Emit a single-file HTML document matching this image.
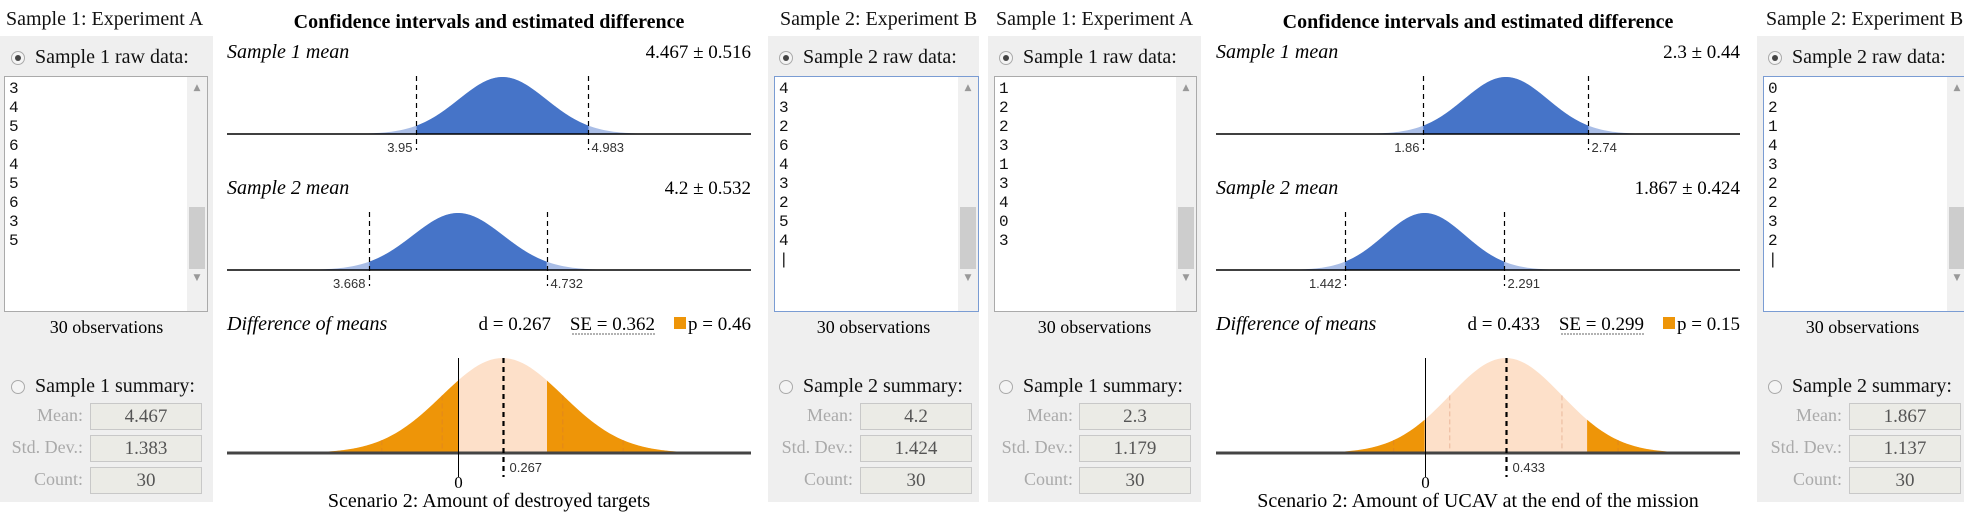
<!DOCTYPE html>
<html><head><meta charset="utf-8">
<style>
body{margin:0;width:1964px;height:513px;overflow:hidden;background:#fff;font-family:"Liberation Serif",serif;position:relative}
.a{position:absolute}
.gray{background:#efefef}
.ttl{font-size:20px;white-space:nowrap;color:#111}
.radio{width:12px;height:12px;border:1px solid #aaa;border-radius:50%;background:#f4f4f4}
.radio.on::after{content:"";position:absolute;left:3px;top:3px;width:6px;height:6px;border-radius:50%;background:#444}
.ta{background:#fff;border:1px solid #aaa;box-sizing:border-box;overflow:hidden}
.ta.focus{border-color:#7a9cd3}
.lines{position:absolute;left:4px;top:3px;font-family:"Liberation Mono",monospace;font-size:16px;line-height:19px;color:#111;white-space:pre}
.sb{position:absolute;right:0;top:0;width:20px;height:100%;background:#f0f0f0}
.thumb{position:absolute;left:2px;width:16px;background:#cdcdcd}
.arr{position:absolute;left:0;width:20px;text-align:center;font-size:9px;color:#999;font-family:"DejaVu Sans",sans-serif}
.obs{font-size:18px;text-align:center;white-space:nowrap}
.lab{font-size:18px;color:#aaa;text-align:right;width:82px;white-space:nowrap}
.box{background:#ebebe6;border:1px solid #c8c8c8;box-sizing:border-box;height:27px;width:112px;text-align:center;font-size:19px;line-height:25px;color:#555}
</style></head><body>

<!-- ============ HALF 1 ============ -->
<div class="a ttl" style="left:6px;top:8px">Sample 1: Experiment A</div>
<div class="a gray" style="left:0;top:36px;width:213px;height:466px"></div>
<div class="a radio on" style="left:11px;top:51px"></div>
<div class="a ttl" style="left:35px;top:46px">Sample 1 raw data:</div>
<div class="a ta" style="left:4px;top:76px;width:204px;height:236px">
<div class="lines">3
4
5
6
4
5
6
3
5</div>
<div class="sb"><div class="arr" style="top:6px">▲</div><div class="thumb" style="top:130px;height:62px"></div><div class="arr" style="top:196px">▼</div></div>
</div>
<div class="a obs" style="left:0;width:213px;top:317px">30 observations</div>
<div class="a radio" style="left:11px;top:380px"></div>
<div class="a ttl" style="left:35px;top:375px">Sample 1 summary:</div>
<div class="a lab" style="left:1px;top:405px">Mean:</div>
<div class="a box" style="left:90px;top:403px">4.467</div>
<div class="a lab" style="left:1px;top:437px">Std. Dev.:</div>
<div class="a box" style="left:90px;top:435px">1.383</div>
<div class="a lab" style="left:1px;top:469px">Count:</div>
<div class="a box" style="left:90px;top:467px">30</div>

<div class="a ttl" style="left:780px;top:8px">Sample 2: Experiment B</div>
<div class="a gray" style="left:768px;top:36px;width:211px;height:466px"></div>
<div class="a radio on" style="left:779px;top:51px"></div>
<div class="a ttl" style="left:803px;top:46px">Sample 2 raw data:</div>
<div class="a ta focus" style="left:774px;top:76px;width:205px;height:236px">
<div class="lines">4
3
2
6
4
3
2
5
4
|</div>
<div class="sb"><div class="arr" style="top:6px">▲</div><div class="thumb" style="top:130px;height:62px"></div><div class="arr" style="top:196px">▼</div></div>
</div>
<div class="a obs" style="left:768px;width:211px;top:317px">30 observations</div>
<div class="a radio" style="left:779px;top:380px"></div>
<div class="a ttl" style="left:803px;top:375px">Sample 2 summary:</div>
<div class="a lab" style="left:771px;top:405px">Mean:</div>
<div class="a box" style="left:860px;top:403px">4.2</div>
<div class="a lab" style="left:771px;top:437px">Std. Dev.:</div>
<div class="a box" style="left:860px;top:435px">1.424</div>
<div class="a lab" style="left:771px;top:469px">Count:</div>
<div class="a box" style="left:860px;top:467px">30</div>

<!-- ============ HALF 2 ============ -->
<div class="a ttl" style="left:996px;top:8px">Sample 1: Experiment A</div>
<div class="a gray" style="left:988px;top:36px;width:213px;height:466px"></div>
<div class="a radio on" style="left:999px;top:51px"></div>
<div class="a ttl" style="left:1023px;top:46px">Sample 1 raw data:</div>
<div class="a ta" style="left:994px;top:76px;width:203px;height:236px">
<div class="lines">1
2
2
3
1
3
4
0
3</div>
<div class="sb"><div class="arr" style="top:6px">▲</div><div class="thumb" style="top:130px;height:62px"></div><div class="arr" style="top:196px">▼</div></div>
</div>
<div class="a obs" style="left:988px;width:213px;top:317px">30 observations</div>
<div class="a radio" style="left:999px;top:380px"></div>
<div class="a ttl" style="left:1023px;top:375px">Sample 1 summary:</div>
<div class="a lab" style="left:991px;top:405px">Mean:</div>
<div class="a box" style="left:1079px;top:403px">2.3</div>
<div class="a lab" style="left:991px;top:437px">Std. Dev.:</div>
<div class="a box" style="left:1079px;top:435px">1.179</div>
<div class="a lab" style="left:991px;top:469px">Count:</div>
<div class="a box" style="left:1079px;top:467px">30</div>

<div class="a ttl" style="left:1766px;top:8px">Sample 2: Experiment B</div>
<div class="a gray" style="left:1757px;top:36px;width:210px;height:466px"></div>
<div class="a radio on" style="left:1768px;top:51px"></div>
<div class="a ttl" style="left:1792px;top:46px">Sample 2 raw data:</div>
<div class="a ta focus" style="left:1763px;top:76px;width:205px;height:236px">
<div class="lines">0
2
1
4
3
2
2
3
2
|</div>
<div class="sb"><div class="arr" style="top:6px">▲</div><div class="thumb" style="top:130px;height:62px"></div><div class="arr" style="top:196px">▼</div></div>
</div>
<div class="a obs" style="left:1757px;width:211px;top:317px">30 observations</div>
<div class="a radio" style="left:1768px;top:380px"></div>
<div class="a ttl" style="left:1792px;top:375px">Sample 2 summary:</div>
<div class="a lab" style="left:1760px;top:405px">Mean:</div>
<div class="a box" style="left:1849px;top:403px">1.867</div>
<div class="a lab" style="left:1760px;top:437px">Std. Dev.:</div>
<div class="a box" style="left:1849px;top:435px">1.137</div>
<div class="a lab" style="left:1760px;top:469px">Count:</div>
<div class="a box" style="left:1849px;top:467px">30</div>

<svg id="charts" class="a" style="left:0;top:0" width="1964" height="513" xmlns="http://www.w3.org/2000/svg"></svg>

<script>
// ---- data ----
const chartTitles = ["Scenario 2: Amount of destroyed targets", "Scenario 2: Amount of UCAV at the end of the mission"];
const sample1Means = [4.467, 2.3];
const sample1CI = [0.516, 0.44];
const sample1Lo = ["3.95", "1.86"];
const sample1Hi = ["4.983", "2.74"];
const sample2Means = [4.2, 1.867];
const sample2CI = [0.532, 0.424];
const sample2Lo = ["3.668", "1.442"];
const sample2Hi = ["4.732", "2.291"];
const diffD = [0.267, 0.433];
const diffSE = [0.362, 0.299];
const pValues = [0.46, 0.15];
// ---- layout (not data) ----
const chartLeft = [227, 1216];
const chartWidth = 524;
const domainMin = [2.814, 0.755];
const domainMax = [5.958, 3.548];

const NS = "http://www.w3.org/2000/svg";
const svg = document.getElementById("charts");
function mk(tag, attrs, parent) {
  const e = document.createElementNS(NS, tag);
  for (const k in attrs) e.setAttribute(k, attrs[k]);
  (parent || svg).appendChild(e);
  return e;
}
function txt(s, attrs, parent) { const t = mk("text", attrs, parent); t.textContent = s; return t; }

function curvePath(xs, mu, sig, a, b, axisY, H) {
  let d = "M" + xs(a).toFixed(2) + "," + axisY;
  const n = 120;
  for (let i = 0; i <= n; i++) {
    const v = a + (b - a) * i / n;
    const z = (v - mu) / sig;
    d += " L" + xs(v).toFixed(2) + "," + (axisY - H * Math.exp(-z * z / 2)).toFixed(2);
  }
  return d + " L" + xs(b).toFixed(2) + "," + axisY + " Z";
}
const SERIF = "Liberation Serif, serif";

for (let c = 0; c < 2; c++) {
  const L = chartLeft[c], R = L + chartWidth, C = L + chartWidth / 2;
  const k = chartWidth / (domainMax[c] - domainMin[c]);
  const xs = v => L + (v - domainMin[c]) * k;
  const g = mk("g", {});
  
  

  const t = txt("Confidence intervals and estimated difference", {x: C, y: 28, "text-anchor": "middle", "font-size": 20, "font-weight": "bold", "font-family": SERIF}, g);
  
  

  const plots = [
    {name: "Sample 1 mean", mu: sample1Means[c], ci: sample1CI[c], lo: sample1Lo[c], hi: sample1Hi[c], labY: 58, axisY: 134, id: "sample1"},
    {name: "Sample 2 mean", mu: sample2Means[c], ci: sample2CI[c], lo: sample2Lo[c], hi: sample2Hi[c], labY: 194, axisY: 270, id: "sample2"}
  ];
  plots.forEach(p => {
    const l = txt(p.name, {x: L, y: p.labY, "font-size": 20, "font-style": "italic", "font-family": SERIF}, g);
    
    
    const v = txt(p.mu + " ± " + p.ci, {x: R, y: p.labY, "font-size": 19, "text-anchor": "end", "font-family": SERIF}, g);
    
    
    const sig = p.ci / 1.96, H = 57;
    const tail = mk("path", {d: curvePath(xs, p.mu, sig, p.mu - 4 * sig, p.mu + 4 * sig, p.axisY, H), fill: "#a9bde6"}, g);
    
    
    const core = mk("path", {d: curvePath(xs, p.mu, sig, p.mu - p.ci, p.mu + p.ci, p.axisY, H), fill: "#4674c8"}, g);
    
    
    const ax = mk("line", {x1: L, x2: R, y1: p.axisY, y2: p.axisY, stroke: "#000", "stroke-width": 1.5}, g);
    
    
    [[p.mu - p.ci, p.lo, "end", -4], [p.mu + p.ci, p.hi, "start", 3]].forEach((q, i) => {
      const x = Math.round(xs(q[0])) + 0.5;
      const dl = mk("line", {x1: x, x2: x, y1: p.axisY - 58, y2: p.axisY + 16, stroke: "#000", "stroke-width": 1.2, "stroke-dasharray": "5,4"}, g);
      
      
      const tl = txt(q[1], {x: x + q[3], y: p.axisY + 18, "font-size": 13, "text-anchor": q[2], fill: "#333", "font-family": "Liberation Sans, sans-serif"}, g);
      
      
    });
  });

  // difference plot: 0 maps to sample2 mean position, d to sample1 mean
  const base = sample2Means[c];
  const xd = v => xs(base + v);
  const d = diffD[c], se = diffSE[c], dAx = 453, H = 95;
  const dl = txt("Difference of means", {x: L, y: 330, "font-size": 20, "font-style": "italic", "font-family": SERIF}, g);
  
  
  const dt = txt("d = " + d, {x: L + 324, y: 330, "font-size": 19, "text-anchor": "end", "font-family": SERIF}, g);
  
  
  const st = txt("SE = " + se, {x: L + 428, y: 330, "font-size": 19, "text-anchor": "end", "font-family": SERIF}, g);
  
  
  const su = mk("line", {x1: L + 345, x2: L + 428, y1: 334, y2: 334, stroke: "#666", "stroke-dasharray": "2,1"}, g);
  
  
  const sq = mk("rect", {x: L + 447, y: 317, width: 12, height: 12, fill: "#ee9508"}, g);
  
  
  const pt = txt("p = " + pValues[c], {x: R, y: 330, "font-size": 19, "text-anchor": "end", "font-family": SERIF}, g);
  
  

  const full = mk("path", {d: curvePath(xd, d, se, d - 4 * se, d + 4 * se, dAx, H), fill: "#fde0c9"}, g);
  
  
  const lt = mk("path", {d: curvePath(xd, d, se, d - 4 * se, 0, dAx, H), fill: "#ee9508"}, g);
  
  
  const rt = mk("path", {d: curvePath(xd, d, se, 2 * d, d + 4 * se, dAx, H), fill: "#ee9508"}, g);
  
  
  [-2, -1, 1, 2].forEach(m => {
    const v = d + m * se, z = m;
    const x = xd(v);
    const fl = mk("line", {x1: x, x2: x, y1: dAx - H * Math.exp(-z * z / 2), y2: dAx, stroke: "rgba(200,110,70,0.35)", "stroke-dasharray": "5,3"}, g);
    
    
  });
  const dax = mk("line", {x1: L, x2: R, y1: dAx, y2: dAx, stroke: "#444", "stroke-width": 3}, g);
  
  
  const zx = Math.round(xd(0)) + 0.5;
  const zl = mk("line", {x1: zx, x2: zx, y1: dAx - H, y2: 477, stroke: "#000", "stroke-width": 1}, g);
  
  
  const zt = txt("0", {x: zx, y: 488, "font-size": 17, "text-anchor": "middle", "font-family": SERIF}, g);
  
  
  const dx = Math.round(xd(d)) + 0.5;
  const dln = mk("line", {x1: dx, x2: dx, y1: dAx - H, y2: 477, stroke: "#000", "stroke-width": 2.2, "stroke-dasharray": "5,4"}, g);
  
  
  const dlb = txt(String(d), {x: dx + 6, y: 472, "font-size": 13, fill: "#333", "font-family": "Liberation Sans, sans-serif"}, g);
  
  
  const bt = txt(chartTitles[c], {x: C, y: 507, "font-size": 20, "text-anchor": "middle", "font-family": SERIF}, g);
  
  
}
</script>
</body></html>
